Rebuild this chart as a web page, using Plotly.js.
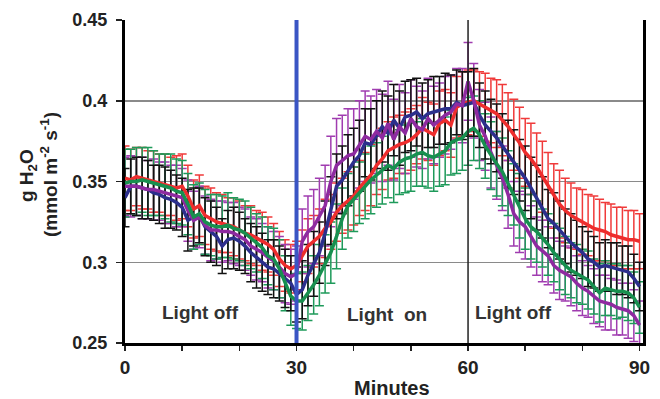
<!DOCTYPE html>
<html>
<head>
<meta charset="utf-8">
<script src="https://cdn.plot.ly/plotly-3.0.1.min.js"></script>
<style>html,body{margin:0;padding:0;background:#fff;}#chart{width:660px;height:399px;}</style>
</head>
<body>
<div id="chart"></div>
<script>
var minutes = [0,1,2,3,4,5,6,7,8,9,10,11,12,13,14,15,16,17,18,19,20,21,22,23,24,25,26,27,28,29,30,
31,32,33,34,35,36,37,38,39,40,41,42,43,44,45,46,47,48,49,50,51,52,53,54,55,56,57,58,59,60,
61,62,63,64,65,66,67,68,69,70,71,72,73,74,75,76,77,78,79,80,81,82,83,84,85,86,87,88,89,90];

var redMean = [
0.352,0.351,0.353,0.352,0.351,0.350,0.349,0.348,0.347,0.346,
0.347,0.341,0.333,0.335,0.329,0.327,0.325,0.324,0.323,0.322,
0.320,0.318,0.317,0.315,0.313,0.311,0.308,0.302,0.298,0.296,
0.298,
0.304,0.310,0.313,0.316,0.321,0.325,0.331,0.335,0.338,
0.341,0.346,0.350,0.354,0.360,0.364,0.369,0.371,0.373,0.374,
0.376,0.379,0.383,0.381,0.379,0.386,0.388,0.385,0.396,0.398,
0.399,
0.400,0.398,0.396,0.394,0.392,0.388,0.384,0.379,0.374,
0.368,0.364,0.359,0.353,0.347,0.341,0.336,0.332,0.329,0.327,
0.325,0.323,0.321,0.320,0.319,0.317,0.316,0.315,0.314,0.314,
0.313];
var redErr = [
0.020,0.019,0.018,0.019,0.018,0.019,0.018,0.019,0.018,0.020,
0.020,0.019,0.018,0.019,0.018,0.019,0.018,0.018,0.017,0.018,
0.018,0.017,0.018,0.017,0.018,0.017,0.016,0.017,0.016,0.015,
0.015,
0.016,0.017,0.016,0.017,0.018,0.017,0.018,0.017,0.018,
0.018,0.017,0.018,0.019,0.018,0.019,0.018,0.019,0.018,0.019,
0.019,0.018,0.019,0.018,0.019,0.020,0.019,0.020,0.019,0.020,
0.020,
0.019,0.020,0.021,0.020,0.021,0.022,0.021,0.022,0.022,
0.021,0.022,0.021,0.022,0.021,0.020,0.021,0.020,0.020,0.019,
0.020,0.019,0.020,0.019,0.018,0.019,0.018,0.019,0.018,0.018,
0.017];

var blueMean = [
0.340,0.347,0.347,0.346,0.345,0.343,0.342,0.340,0.339,0.337,
0.334,0.326,0.328,0.329,0.322,0.319,0.316,0.310,0.314,0.315,
0.313,0.310,0.306,0.303,0.300,0.297,0.296,0.293,0.290,0.287,
0.280,
0.283,0.292,0.299,0.306,0.318,0.332,0.347,0.351,0.357,
0.362,0.366,0.374,0.373,0.379,0.384,0.380,0.388,0.383,0.390,
0.391,0.393,0.389,0.392,0.393,0.394,0.395,0.395,0.399,0.397,
0.398,
0.399,0.391,0.385,0.381,0.377,0.372,0.367,0.362,0.357,
0.352,0.346,0.340,0.334,0.327,0.324,0.320,0.316,0.312,0.309,
0.306,0.302,0.300,0.297,0.298,0.297,0.296,0.295,0.294,0.290,
0.285];
var blueErr = [
0.018,0.017,0.018,0.019,0.018,0.017,0.018,0.019,0.018,0.017,
0.018,0.019,0.018,0.017,0.018,0.019,0.018,0.017,0.018,0.019,
0.018,0.017,0.018,0.019,0.018,0.017,0.018,0.017,0.018,0.017,
0.017,
0.018,0.019,0.020,0.019,0.020,0.021,0.020,0.021,0.022,
0.021,0.022,0.021,0.022,0.021,0.022,0.023,0.022,0.023,0.022,
0.022,0.021,0.022,0.021,0.022,0.021,0.022,0.021,0.020,0.021,
0.020,
0.021,0.020,0.021,0.020,0.021,0.020,0.021,0.020,0.019,
0.020,0.019,0.020,0.019,0.018,0.019,0.018,0.017,0.018,0.017,
0.016,0.017,0.016,0.015,0.016,0.015,0.016,0.015,0.016,0.015,
0.015];

var greenMean = [
0.349,0.350,0.350,0.351,0.350,0.349,0.348,0.347,0.346,0.344,
0.343,0.336,0.328,0.330,0.325,0.323,0.322,0.322,0.323,0.321,
0.320,0.318,0.315,0.312,0.309,0.304,0.302,0.296,0.287,0.279,
0.276,
0.276,0.281,0.286,0.292,0.299,0.306,0.316,0.327,0.335,
0.339,0.343,0.347,0.351,0.354,0.357,0.360,0.358,0.362,0.364,
0.365,0.367,0.368,0.366,0.365,0.367,0.369,0.374,0.376,0.377,
0.381,
0.383,0.379,0.372,0.366,0.361,0.356,0.349,0.342,0.335,
0.327,0.322,0.319,0.315,0.311,0.306,0.302,0.298,0.295,0.293,
0.291,0.289,0.285,0.281,0.284,0.283,0.282,0.282,0.281,0.278,
0.272];
var greenErr = [
0.021,0.020,0.021,0.020,0.021,0.020,0.019,0.020,0.021,0.020,
0.020,0.019,0.020,0.019,0.020,0.019,0.020,0.019,0.020,0.019,
0.019,0.020,0.019,0.018,0.019,0.018,0.019,0.018,0.017,0.018,
0.017,
0.018,0.017,0.018,0.019,0.018,0.019,0.020,0.019,0.020,
0.020,0.019,0.020,0.021,0.020,0.021,0.020,0.021,0.020,0.021,
0.021,0.020,0.021,0.020,0.021,0.020,0.021,0.020,0.021,0.020,
0.021,
0.020,0.021,0.020,0.021,0.020,0.021,0.020,0.019,0.020,
0.019,0.020,0.019,0.018,0.019,0.018,0.019,0.018,0.017,0.018,
0.017,0.018,0.017,0.018,0.017,0.016,0.017,0.016,0.017,0.016,
0.016];

var purpleMean = [
0.347,0.347,0.347,0.346,0.345,0.345,0.344,0.343,0.342,0.341,
0.340,0.332,0.326,0.328,0.323,0.320,0.320,0.319,0.319,0.318,
0.316,0.314,0.310,0.308,0.306,0.303,0.301,0.297,0.293,0.291,
0.293,
0.313,0.319,0.322,0.328,0.335,0.350,0.360,0.363,0.366,
0.367,0.373,0.378,0.376,0.381,0.377,0.386,0.376,0.384,0.380,
0.389,0.384,0.382,0.389,0.385,0.388,0.391,0.393,0.398,0.397,
0.412,
0.400,0.385,0.378,0.368,0.360,0.352,0.342,0.330,0.325,
0.322,0.316,0.310,0.307,0.304,0.298,0.295,0.293,0.291,0.287,
0.284,0.282,0.279,0.276,0.275,0.274,0.272,0.271,0.270,0.267,
0.261];
var purpleErr = [
0.018,0.019,0.018,0.019,0.018,0.019,0.018,0.019,0.018,0.019,
0.018,0.019,0.018,0.019,0.018,0.019,0.018,0.019,0.018,0.019,
0.018,0.019,0.018,0.019,0.018,0.019,0.018,0.019,0.018,0.017,
0.017,
0.020,0.022,0.023,0.024,0.025,0.028,0.029,0.028,0.029,
0.028,0.027,0.028,0.027,0.026,0.027,0.026,0.025,0.026,0.025,
0.024,0.025,0.024,0.025,0.024,0.023,0.024,0.023,0.022,0.023,
0.024,
0.023,0.022,0.021,0.022,0.021,0.020,0.021,0.020,0.019,
0.020,0.019,0.018,0.019,0.018,0.017,0.018,0.017,0.018,0.017,
0.017,0.016,0.017,0.016,0.017,0.016,0.017,0.016,0.017,0.016,
0.015];

var xTickVals = [0,10,20,30,40,50,60,70,80,90];
var xTickText = ['0','','','30','','','60','','','90'];
var yTickVals = [0.25,0.3,0.35,0.4,0.45];
var yTickText = ['0.25','0.3','0.35','0.4','0.45'];
var labels = [
  {text:'Light off', x:13.2, y:0.2688},
  {text:'Light  on', x:45.8, y:0.2675},
  {text:'Light off', x:68.0, y:0.2688}
];

var FONT = 'Liberation Sans, Arial, Helvetica, sans-serif';

function errTrace(mean, err, color) {
  return {x:minutes, y:mean, type:'scatter', mode:'markers',
    marker:{size:1, opacity:0, color:color}, hoverinfo:'skip', showlegend:false,
    error_y:{type:'data', array:err, visible:true, color:color, thickness:1.5, width:4.5}};
}
function lineTrace(mean, color) {
  return {x:minutes, y:mean, type:'scatter', mode:'lines',
    line:{color:color, width:3.5}, showlegend:false};
}

var data = [
  errTrace(redMean, redErr, '#f03a3a'),
  errTrace(purpleMean, purpleErr, '#a03cb0'),
  errTrace(greenMean, greenErr, '#1e9a5a'),
  errTrace(blueMean, blueErr, '#111111'),
  lineTrace(redMean, '#ee2d2d'),
  lineTrace(blueMean, '#2c2f8c'),
  lineTrace(purpleMean, '#8e2aa0'),
  lineTrace(greenMean, '#17904f')
];

var annotations = labels.map(function(l){
  return {x:l.x, y:l.y, xref:'x', yref:'y', text:l.text, showarrow:false,
    xanchor:'center', yanchor:'middle',
    font:{family:FONT, size:19, color:'#333333', weight:'bold'}};
});
annotations.push({xref:'paper', yref:'paper', x:0.515, y:-0.14, text:'Minutes', showarrow:false,
  xanchor:'center', yanchor:'middle',
  font:{family:FONT, size:20, color:'#222222', weight:'bold'}});
annotations.push({xref:'paper', yref:'paper', x:-0.1873, y:0.52, text:'g H<sub>2</sub>O', showarrow:false,
  xanchor:'center', yanchor:'middle',
  textangle:-90, font:{family:FONT, size:19, color:'#222222', weight:'bold'}});
annotations.push({xref:'paper', yref:'paper', x:-0.1467, y:0.52, text:'(mmol m<sup>-2</sup> s<sup>-1</sup>)', showarrow:false,
  xanchor:'center', yanchor:'middle',
  textangle:-90, font:{family:FONT, size:19, color:'#222222', weight:'bold'}});

var layout = {
  width:660, height:399,
  margin:{l:125, r:17, t:20, b:56},
  paper_bgcolor:'#ffffff', plot_bgcolor:'#ffffff',
  showlegend:false,
  xaxis:{range:[0,90.6], tickmode:'array', tickvals:xTickVals, ticktext:xTickText,
    ticks:'outside', ticklen:5, tickwidth:1.5, tickcolor:'#222',
    showgrid:false, zeroline:false, showline:true, linecolor:'#000', linewidth:3,
    ticklabelstandoff:0,
    tickfont:{family:FONT, size:19, color:'#222222', weight:'bold'}},
  yaxis:{range:[0.25,0.45], tickmode:'array', tickvals:yTickVals, ticktext:yTickText,
    ticks:'outside', ticklen:6, tickwidth:1.5, tickcolor:'#222',
    showgrid:true, gridcolor:'#8a8a8a', gridwidth:1.5, zeroline:false,
    showline:true, mirror:true, linecolor:'#000', linewidth:3,
    ticklabelstandoff:5,
    tickfont:{family:FONT, size:18, color:'#222222', weight:'bold'}},
  shapes:[
    {type:'line', xref:'x', yref:'paper', x0:30, x1:30, y0:0, y1:1, layer:'above',
      line:{color:'#3a55c4', width:4}},
    {type:'line', xref:'x', yref:'paper', x0:60, x1:60, y0:0, y1:1, layer:'above',
      line:{color:'#222222', width:1.5}}
  ],
  annotations:annotations
};

Plotly.newPlot('chart', data, layout, {staticPlot:true, displayModeBar:false});
</script>
</body>
</html>
